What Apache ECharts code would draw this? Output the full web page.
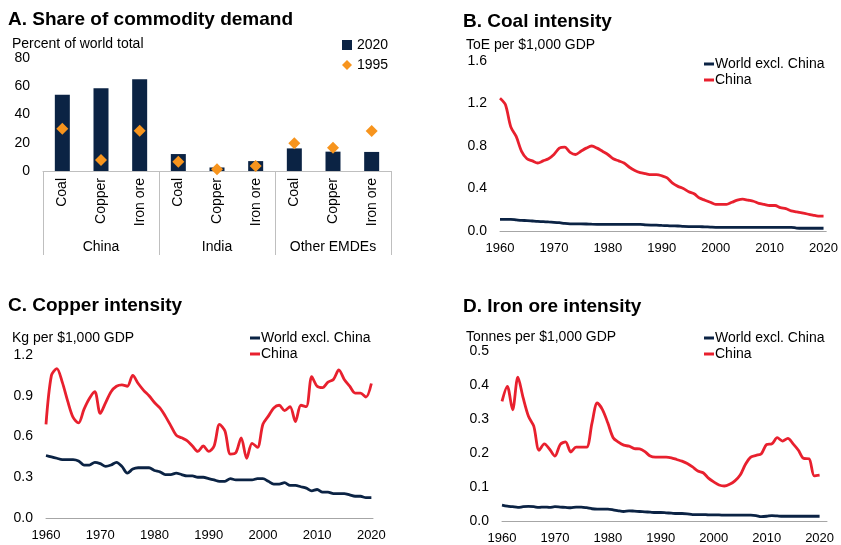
<!DOCTYPE html>
<html>
<head>
<meta charset="utf-8">
<script src="https://cdn.jsdelivr.net/npm/echarts@6/dist/echarts.min.js"></script>
<style>
  html, body { margin: 0; padding: 0; background: #ffffff; }
  #chart { width: 841px; height: 545px; }
</style>
</head>
<body>
<div id="chart"></div>
<script>
// ---- Panel A: share of commodity demand ----
const commodityLabels = ['Coal', 'Copper', 'Iron ore', 'Coal', 'Copper', 'Iron ore', 'Coal', 'Copper', 'Iron ore'];
const regionGroups = ['China', 'India', 'Other EMDEs'];
const share2020 = [54, 58.5, 65, 12, 2.5, 7, 16, 13.7, 13.5];
const share1995 = [30, 7.8, 28.5, 6.6, 1.2, 3.5, 19.6, 16.5, 28.3];

// ---- Intensity series, annual 1960-2020 ----
const firstYear = 1960;
const coalChina = [
  1.25, 1.19, 0.98, 0.89, 0.75, 0.68, 0.66, 0.64, 0.66, 0.68,
  0.72, 0.78, 0.79, 0.74, 0.72, 0.75, 0.78, 0.80, 0.78, 0.75,
  0.72, 0.68, 0.66, 0.64, 0.60, 0.57, 0.55, 0.54, 0.53, 0.53,
  0.52, 0.50, 0.45, 0.42, 0.40, 0.37, 0.35, 0.31, 0.29, 0.27,
  0.25, 0.25, 0.25, 0.27, 0.29, 0.30, 0.29, 0.28, 0.26, 0.25,
  0.24, 0.24, 0.22, 0.21, 0.19, 0.18, 0.17, 0.16, 0.15, 0.14, 0.14
];
const coalWorld = [
  0.110, 0.110, 0.110, 0.105, 0.100, 0.098, 0.094, 0.090, 0.088, 0.085,
  0.082, 0.078, 0.072, 0.068, 0.067, 0.067, 0.066, 0.064, 0.063, 0.063,
  0.063, 0.063, 0.063, 0.063, 0.063, 0.062, 0.062, 0.058, 0.056, 0.055,
  0.052, 0.050, 0.048, 0.047, 0.043, 0.042, 0.042, 0.041, 0.039, 0.037,
  0.035, 0.035, 0.035, 0.035, 0.035, 0.035, 0.035, 0.035, 0.035, 0.035,
  0.035, 0.035, 0.035, 0.034, 0.034, 0.028, 0.026, 0.026, 0.026, 0.026, 0.026
];
const copperChina = [
  0.69, 1.05, 1.10, 1.00, 0.86, 0.74, 0.70, 0.80, 0.88, 0.93,
  0.77, 0.85, 0.93, 0.97, 0.98, 0.97, 1.05, 0.99, 0.94, 0.90,
  0.85, 0.81, 0.75, 0.68, 0.61, 0.59, 0.57, 0.53, 0.49, 0.53,
  0.49, 0.53, 0.69, 0.64, 0.47, 0.48, 0.59, 0.44, 0.55, 0.52,
  0.69, 0.75, 0.81, 0.83, 0.79, 0.82, 0.71, 0.83, 0.82, 1.04,
  0.97, 0.96, 1.00, 1.02, 1.09, 1.02, 0.97, 0.92, 0.92, 0.89, 0.99
];
const copperWorld = [
  0.46, 0.45, 0.44, 0.43, 0.43, 0.43, 0.42, 0.39, 0.39, 0.41,
  0.40, 0.38, 0.39, 0.41, 0.38, 0.33, 0.36, 0.37, 0.37, 0.37,
  0.35, 0.34, 0.32, 0.32, 0.33, 0.32, 0.31, 0.31, 0.30, 0.30,
  0.29, 0.28, 0.27, 0.27, 0.29, 0.28, 0.28, 0.28, 0.28, 0.29,
  0.29, 0.27, 0.25, 0.25, 0.26, 0.24, 0.24, 0.23, 0.22, 0.20,
  0.21, 0.19, 0.19, 0.18, 0.18, 0.18, 0.17, 0.16, 0.16, 0.15, 0.15
];
const ironChina = [
  0.352, 0.396, 0.327, 0.423, 0.362, 0.308, 0.279, 0.208, 0.227, 0.211,
  0.191, 0.225, 0.233, 0.203, 0.217, 0.217, 0.217, 0.288, 0.347, 0.327,
  0.288, 0.245, 0.232, 0.223, 0.220, 0.213, 0.212, 0.204, 0.191, 0.188,
  0.188, 0.188, 0.186, 0.181, 0.176, 0.169, 0.159, 0.147, 0.142, 0.126,
  0.115, 0.106, 0.103, 0.108, 0.118, 0.135, 0.167, 0.188, 0.193, 0.198,
  0.225, 0.227, 0.245, 0.235, 0.243, 0.227, 0.208, 0.184, 0.183, 0.133, 0.135
];
const ironWorld = [
  0.047, 0.044, 0.042, 0.040, 0.042, 0.043, 0.042, 0.040, 0.041, 0.040,
  0.042, 0.041, 0.040, 0.039, 0.041, 0.041, 0.039, 0.036, 0.035, 0.035,
  0.035, 0.033, 0.030, 0.028, 0.030, 0.029, 0.028, 0.027, 0.026, 0.025,
  0.025, 0.024, 0.023, 0.022, 0.022, 0.021, 0.019, 0.019, 0.019, 0.018,
  0.018, 0.018, 0.017, 0.017, 0.017, 0.017, 0.017, 0.017, 0.016, 0.013,
  0.014, 0.016, 0.015, 0.014, 0.014, 0.014, 0.014, 0.014, 0.014, 0.014, 0.014
];

const NAVY = '#0b2344';
const RED = '#e8202e';
const ORANGE = '#f7941d';
const AXIS_GREY = '#a6a6a6';
const FONT = '"Liberation Sans", Arial, Helvetica, sans-serif';

const withYears = arr => arr.map((v, i) => [firstYear + i, v]);

function titleBlock(text, left, top, bold) {
  return {
    text: text, left: left, top: top, padding: 0,
    textStyle: {
      fontFamily: FONT, color: '#000',
      fontSize: bold ? 19 : 14,
      fontWeight: bold ? 'bold' : 'normal'
    }
  };
}

function yearAxis(grid, min, max) {
  return {
    type: 'value', gridIndex: grid, min: min, max: max, interval: 10,
    axisLine: { show: true, lineStyle: { color: AXIS_GREY, width: 1 } },
    axisTick: { show: false },
    splitLine: { show: false },
    axisLabel: {
      fontFamily: FONT, fontSize: 13, color: '#000', margin: 11,
      formatter: v => (v % 10 === 0 ? String(v) : '')
    }
  };
}

function valueAxis(grid, max, interval, digits) {
  return {
    type: 'value', gridIndex: grid, min: 0, max: max, interval: interval,
    axisLine: { show: false }, axisTick: { show: false }, splitLine: { show: false },
    axisLabel: {
      fontFamily: FONT, fontSize: 14, color: '#000', margin: 13,
      formatter: v => v.toFixed(digits)
    }
  };
}

function lineSeries(name, color, xi, yi, data) {
  return {
    type: 'line', name: name, xAxisIndex: xi, yAxisIndex: yi,
    data: withYears(data), showSymbol: false, symbol: 'none', smooth: 0.3,
    lineStyle: { color: color, width: 2.8 }, itemStyle: { color: color },
    emphasis: { disabled: true }
  };
}

function lineLegend(left, top) {
  return {
    orient: 'vertical', left: left, top: top, padding: 0,
    itemWidth: 10, itemHeight: 3, itemGap: 2,
    textStyle: { fontFamily: FONT, fontSize: 14, color: '#000', lineHeight: 14, padding: [0, 0, 0, -4] },
    data: [
      { name: 'World excl. China', icon: 'rect' },
      { name: 'China', icon: 'rect' }
    ]
  };
}

const chart = echarts.init(document.getElementById('chart'), null, { renderer: 'canvas' });

chart.setOption({
  animation: false,
  backgroundColor: '#ffffff',
  title: [
    titleBlock('A. Share of commodity demand', 8, 10, true),
    titleBlock('Percent of world total', 12, 37, false),
    titleBlock('B. Coal intensity', 463, 12, true),
    titleBlock('ToE per $1,000 GDP', 466, 38, false),
    titleBlock('C. Copper intensity', 8, 296, true),
    titleBlock('Kg per $1,000 GDP', 12, 331, false),
    titleBlock('D. Iron ore intensity', 463, 297, true),
    titleBlock('Tonnes per $1,000 GDP', 466, 330, false)
  ],
  legend: [
    {
      orient: 'vertical', left: 342, top: 38, padding: 0,
      itemWidth: 10, itemHeight: 10, itemGap: 6,
      textStyle: { fontFamily: FONT, fontSize: 14, color: '#000', lineHeight: 14 },
      data: [{ name: '2020', icon: 'rect' }, { name: '1995', icon: 'diamond' }]
    },
    lineLegend(704, 57),
    lineLegend(250, 331),
    lineLegend(704, 331)
  ],
  grid: [
    { left: 43, top: 58, width: 348, height: 113 },
    { left: 500, top: 61, width: 327, height: 170 },
    { left: 46, top: 355, width: 327, height: 163 },
    { left: 502, top: 351, width: 325, height: 171 }
  ],
  xAxis: [
    {
      type: 'category', gridIndex: 0, data: commodityLabels, position: 'bottom',
      axisLine: { show: true, lineStyle: { color: '#bfbfbf', width: 1 } },
      axisTick: { show: false },
      axisLabel: { rotate: 90, interval: 0, margin: 7, fontFamily: FONT, fontSize: 14, color: '#000' }
    },
    {
      type: 'category', gridIndex: 0, data: regionGroups, position: 'bottom',
      axisLine: { show: false },
      axisTick: { show: true, length: 84, interval: 0, lineStyle: { color: '#bfbfbf', width: 1 } },
      axisLabel: { interval: 0, margin: 69, fontFamily: FONT, fontSize: 14, color: '#000' }
    },
    yearAxis(1, 1960, 2020.5),
    yearAxis(2, 1960, 2020.3),
    yearAxis(3, 1960, 2021.4)
  ],
  yAxis: [
    valueAxis(0, 80, 20, 0),
    valueAxis(1, 1.6, 0.4, 1),
    valueAxis(2, 1.2, 0.3, 1),
    valueAxis(3, 0.5, 0.1, 1)
  ],
  series: [
    {
      type: 'bar', name: '2020', xAxisIndex: 0, yAxisIndex: 0,
      data: share2020, barWidth: 15, itemStyle: { color: NAVY }
    },
    {
      type: 'scatter', name: '1995', xAxisIndex: 0, yAxisIndex: 0,
      data: share1995, symbol: 'diamond', symbolSize: 12,
      itemStyle: { color: ORANGE, opacity: 1 }, z: 5
    },
    lineSeries('World excl. China', NAVY, 2, 1, coalWorld),
    lineSeries('China', RED, 2, 1, coalChina),
    lineSeries('World excl. China', NAVY, 3, 2, copperWorld),
    lineSeries('China', RED, 3, 2, copperChina),
    lineSeries('World excl. China', NAVY, 4, 3, ironWorld),
    lineSeries('China', RED, 4, 3, ironChina)
  ]
});
</script>
</body>
</html>
